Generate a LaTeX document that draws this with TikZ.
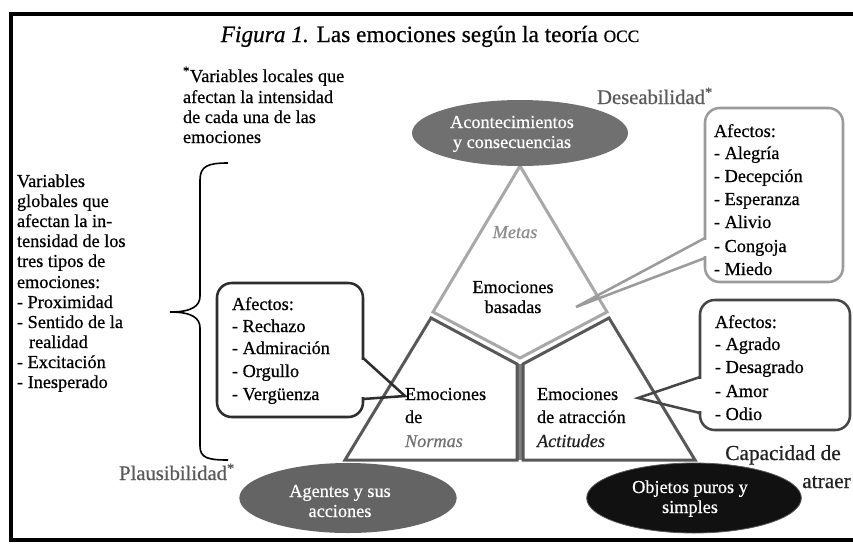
\documentclass[tikz,border=0pt]{standalone}
\usepackage{fontspec}
\setmainfont{Liberation Serif}[FakeBold=0.6]
\usetikzlibrary{shapes.geometric}
\definecolor{ellA}{RGB}{112,112,112}
\definecolor{ellB}{RGB}{100,100,100}
\definecolor{ellC}{RGB}{17,17,17}
\definecolor{lightln}{RGB}{168,168,168}
\definecolor{darkln}{RGB}{88,88,88}
\definecolor{boxlight}{RGB}{155,155,155}
\definecolor{boxdark}{RGB}{70,70,70}
\definecolor{boxblack}{RGB}{45,45,45}
\definecolor{vargray}{RGB}{90,90,90}
\definecolor{metasgray}{RGB}{140,140,140}
\definecolor{normgray}{RGB}{115,115,115}
\definecolor{nearblack}{RGB}{34,34,34}
\begin{document}
\begin{tikzpicture}[x=0.75pt,y=-0.75pt,
  body/.style={inner sep=0pt,outer sep=0pt,anchor=base west,font=\fontsize{13.7}{16}\selectfont},
  bodyc/.style={body,anchor=base},
  elltxt/.style={bodyc,text=white},
  oval/.style={ellipse,inner sep=0pt,outer sep=0pt,minimum width=162pt,minimum height=51pt},
  callout/.style={line width=1.9pt,rounded corners=11pt,fill=white},
  tri/.style={line width=2.25pt,line join=miter},
  big/.style={inner sep=0pt,anchor=base,font=\fontsize{15.5}{18}\selectfont,text=vargray}]
\useasboundingbox (0,0) rectangle (853,544);
\fill[white] (0,0) rectangle (853,544);
% frame
\draw[line width=3.6pt,line join=miter] (853,14) -- (11,14) -- (11,540) -- (853,540);
% title
\node (title) [inner sep=0pt,anchor=base,font=\fontsize{17.5}{20}\selectfont] at (430,42)
  {\textit{Figura 1.} Las emociones según la teoría {\fontsize{13}{15}\selectfont OCC}};
% triangle
\draw[tri,lightln] (520,166) -- (433,312) -- (520,358) -- (607,312) -- cycle;
\fill[gray] (517,364) rectangle (523,460);
\draw[tri,darkln] (431,318) -- (517,364) -- (517,460) -- (345,460) -- cycle;
\draw[tri,darkln] (609,318) -- (523,364) -- (523,460) -- (695,460) -- cycle;
% ellipses
\node (acon) [oval,fill=ellA,minimum height=49.5pt] at (520,133) {};
\node (agen) [oval,fill=ellB,minimum width=163pt,minimum height=52.5pt] at (348,498) {};
\node (obje) [oval,fill=ellC,draw=darkln,line width=0.6pt,minimum width=161pt,minimum height=52.5pt] at (694,498) {};
\node (acon1) [elltxt] at (512,128) {Acontecimientos};
\node (acon2) [elltxt] at (512,148) {y consecuencias};
\node (agen1) [elltxt] at (340,497) {Agentes y sus};
\node (agen2) [elltxt] at (340,517) {acciones};
\node (obje1) [elltxt] at (690,493) {Objetos puros y};
\node (obje2) [elltxt] at (690,513) {simples};
% brace
\draw[line width=1.2pt] (228,163) .. controls (208,163) and (200,166) .. (200,180) -- (200,296)
  .. controls (200,306) and (192,312) .. (170,312)
  .. controls (192,312) and (200,318) .. (200,328) -- (200,446)
  .. controls (200,458) and (208,460) .. (228,460);
% callout boxes
\draw[callout,draw=boxlight] (705,108) rectangle (843,282);
\draw[white,line width=3pt] (705,240) -- (705,256);
\draw[line width=1.9pt,boxlight,line join=miter] (705,238) -- (576,307) -- (705,258);
\draw[callout,draw=boxdark] (700,300) rectangle (850,430);
\draw[white,line width=3pt] (700,379) -- (700,411);
\draw[line width=1.9pt,boxdark,line join=miter] (700,377) -- (638,398) -- (700,413);
\draw[callout,draw=boxblack] (217,283) rectangle (363,417);
\draw[white,line width=3pt] (363,360) -- (363,397);
\draw[line width=1.9pt,boxblack,line join=miter] (363,358) -- (405,396) -- (363,399);
% note
\node (n1) [body] at (183,82) {\textsuperscript{*}Variables locales que};
\node (n2) [body] at (183,103) {afectan la intensidad};
\node (n3) [body] at (183,123) {de cada una de las};
\node (n4) [body] at (183,143) {emociones};
% global variables
\node (g1) [body] at (17,187) {Variables};
\node (g2) [body] at (17,207) {globales que};
\node (g3) [body] at (17,227) {afectan la in-};
\node (g4) [body] at (17,247) {tensidad de los};
\node (g5) [body] at (17,267) {tres tipos de};
\node (g6) [body] at (17,288) {emociones:};
\node (g7) [body] at (17,308) {- Proximidad};
\node (g8) [body] at (17,328) {- Sentido de la};
\node (g9) [body] at (29,348) {realidad};
\node (g10) [body] at (17,368) {- Excitación};
\node (g11) [body] at (17,388) {- Inesperado};
% left callout text
\node (l1) [body] at (232,310) {Afectos:};
\node (l2) [body] at (232,332) {- Rechazo};
\node (l3) [body] at (232,354) {- Admiración};
\node (l4) [body] at (232,377) {- Orgullo};
\node (l5) [body] at (232,400) {- Vergüenza};
% box 1 text
\node (a1) [body] at (714,137) {Afectos:};
\node (a2) [body] at (714,159) {- Alegría};
\node (a3) [body] at (714,182) {- Decepción};
\node (a4) [body] at (714,205) {- Esperanza};
\node (a5) [body] at (714,228) {- Alivio};
\node (a6) [body] at (714,252) {- Congoja};
\node (a7) [body] at (714,275) {- Miedo};
% box 2 text
\node (b1) [body] at (715,328) {Afectos:};
\node (b2) [body] at (715,350) {- Agrado};
\node (b3) [body] at (715,373) {- Desagrado};
\node (b4) [body] at (715,397) {- Amor};
\node (b5) [body] at (715,420) {- Odio};
% triangle labels
\node (metas) [bodyc,text=metasgray,font=\fontsize{13.7}{16}\selectfont\itshape] at (515,238) {Metas};
\node (eb1) [bodyc] at (513,293) {Emociones};
\node (eb2) [bodyc] at (513,313) {basadas};
\node (en1) [body] at (405,400) {Emociones};
\node (en2) [body] at (405,423) {de};
\node (en3) [body,text=normgray,font=\fontsize{13.7}{16}\selectfont\itshape] at (405,447) {Normas};
\node (ea1) [body] at (537,400) {Emociones};
\node (ea2) [body] at (537,423) {de atracción};
\node (ea3) [body,text=nearblack,font=\fontsize{13.7}{16}\selectfont\itshape] at (537,447) {Actitudes};
% variable labels
\node (des) [big] at (655,104) {Deseabilidad\textsuperscript{*}};
\node (pla) [big] at (177,480) {Plausibilidad\textsuperscript{*}};
\node (cap1) [inner sep=0pt,anchor=base west,font=\fontsize{16}{19}\selectfont,text=nearblack] at (725,460) {Capacidad de};
\node (cap2) [inner sep=0pt,anchor=base west,font=\fontsize{16}{19}\selectfont,text=nearblack] at (802,488) {atraer};
\end{tikzpicture}
\end{document}
